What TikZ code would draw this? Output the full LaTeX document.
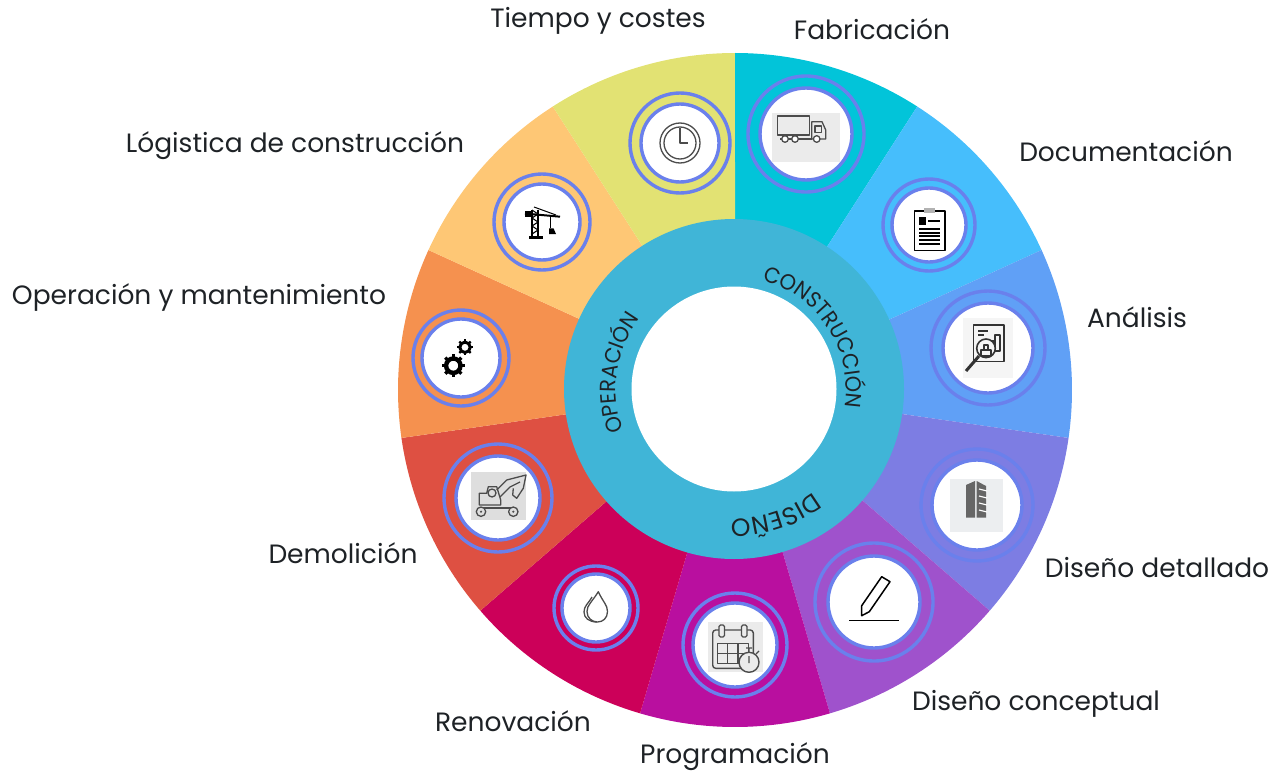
\documentclass[tikz,border=0pt]{standalone}
\usepackage{fontspec}
\usepackage{tikz}
\usetikzlibrary{decorations.text}
\setmainfont{Poppins}
\newfontfamily\hubfont[FakeStretch=0.95]{Poppins}

\definecolor{fabcol}{HTML}{02C4D9}
\definecolor{doccol}{HTML}{46BEFC}
\definecolor{anacol}{HTML}{60A0F6}
\definecolor{detcol}{HTML}{7D7DE3}
\definecolor{concol}{HTML}{9F52CC}
\definecolor{procol}{HTML}{B90F9F}
\definecolor{rencol}{HTML}{CC0059}
\definecolor{demcol}{HTML}{DE5042}
\definecolor{opecol}{HTML}{F5914F}
\definecolor{logcol}{HTML}{FEC775}
\definecolor{ticol}{HTML}{E2E273}
\definecolor{hubcol}{HTML}{40B5D7}
\definecolor{ringcol}{HTML}{6A80EC}
\definecolor{inkcol}{HTML}{1E2226}
\definecolor{linecol}{HTML}{4C4C4C}
\definecolor{tilecol}{HTML}{ECEEF0}

\tikzset{
    ringout/.style={circle, draw=ringcol, line width=3.4pt, inner sep=0pt},
    ringin/.style={circle, draw=ringcol, line width=3.4pt, fill=white, inner sep=0pt},
    lbl/.style={anchor=base, inner sep=0pt, text=inkcol, font=\fontsize{26.5}{30}\selectfont},
    icon/.style={draw=linecol, line width=1.3pt, line join=round},
    blk/.style={draw=black, line width=1.5pt, line join=round}
}

\begin{document}
\begin{tikzpicture}[x=1pt,y=-1pt]
    \useasboundingbox (0,0) rectangle (1279,773);

    % wheel
    \begin{scope}[shift={(735,390)},y=1pt]
        \foreach \col [count=\i] in {fabcol,doccol,anacol,detcol,concol,procol,rencol,demcol,opecol,logcol,ticol} {
            \pgfmathsetmacro{\angA}{90-(\i-1)*32.727}
            \pgfmathsetmacro{\angB}{\angA-32.727}
            \fill[\col] (0,0) -- (\angA:337) arc (\angA:\angB:337) -- cycle;
        }
        \fill[hubcol] (-1,1) circle (170);
        \fill[white] (-1,1) circle (102.5);
        \path[decorate, decoration={text along path, text align=center,
            text={|\hubfont\fontsize{22}{26}\selectfont\color{inkcol}|CONSTRUCCIÓN}}]
            (-1,1) ++(85:112) arc (85:-19:112);
        \path[decorate, decoration={text along path, text align=center,
            text={|\hubfont\fontsize{22}{26}\selectfont\color{inkcol}|OPERACIÓN}}]
            (-1,1) ++(220:118) arc (220:124:118);
        \path[decorate, decoration={text along path, text align=center,
            text={|\fontsize{25}{28}\selectfont\color{inkcol}|DISEÑO}}]
            (-1,1) ++(-25:130) arc (-25:-119:130);
    \end{scope}

    % rings around the icons
    \foreach \name/\px/\py/\ri/\ro in {
        fab/806/134/46/58, doc/929/225/37/46, ana/988/348/45/57,
        det/977/505/45/56, con/874/602/46/59, pro/735/645/42/52,
        ren/596/608/34/42, dem/498/498/42/54, ope/461/358/39/48,
        log/542/222/38/48, tie/680/143/39/50} {
        \node[ringout, minimum size={2*\ro}] (\name out) at (\px,\py) {};
        \node[ringin, minimum size={2*\ri}] (\name in) at (\px,\py) {};
    }

    % truck
    \fill[black!8] (772,113) rectangle (840,162);
    \draw[icon] (777.3,116) rectangle (809.3,135);
    \draw[icon] (811.7,139) -- (811.7,121.7) -- (822,121.7) -- (825.7,130) -- (825.7,139) -- cycle;
    \draw[icon] (815,126) rectangle (821.7,132.7);
    \draw[icon] (780,139) -- (812,139);
    \foreach \wx in {785,795,816.7} {
        \draw[icon, fill=white] (\wx,139) circle (3.3);
    }

    % clipboard
    \draw[blk, line width=1.8pt] (914.5,211) rectangle (945,250.5);
    \fill[gray!60] (923.5,207.5) rectangle (935,213);
    \fill[black] (919.3,216.7) rectangle (925.7,225);
    \draw[black, line width=1.2pt] (928,221) -- (939.5,221);
    \foreach \ly in {229,232.7,236.3,240,243.5} {
        \draw[black, line width=2pt] (919,\ly) -- (940,\ly);
    }

    % report and magnifier
    \fill[black!4] (963,318) rectangle (1013,378);
    \draw[icon, draw=black!80] (973.3,325) rectangle (1004,361.7);
    \draw[icon, draw=black!80] (978,331) -- (988,331) (978,335) -- (984,335);
    \draw[icon, draw=black!80] (995,335) rectangle (1000,351) (989,341) rectangle (995,351);
    \draw[icon, draw=black!80, fill=black!4, line width=1.6pt] (986,348.3) circle (9.3);
    \draw[icon, draw=black!80] (981,356) rectangle (991,350) (984,350) rectangle (988,345);
    \draw[black!80, line width=3pt] (979,356) -- (966,371);

    % building
    \fill[tilecol] (950,479.3) rectangle (1003.3,531.7);
    \fill[black!60] (966,485) -- (975,481) -- (975,517.5) -- (966,517.5) -- cycle;
    \fill[black!60] (976.7,481) -- (986,486) -- (986,517.5) -- (976.7,517.5) -- cycle;
    \foreach \ly in {489,496,503,510} {
        \draw[white, line width=1.2pt] (979,\ly) -- (987,\ly+2);
    }

    % pencil
    \draw[blk] (881.7,576.7) -- (890,581.7) -- (869.3,611.7) -- (861.7,615.7) -- (861.7,605.7) -- cycle;
    \draw[black, line width=1.5pt] (849,620.7) -- (899.3,620.7);

    % calendar and stopwatch
    \fill[black!8] (707.7,621.7) rectangle (763.3,671.7);
    \draw[icon, line width=1.4pt, rounded corners=3pt] (712.7,630) rectangle (753.3,668.3);
    \draw[icon, fill=black!8, rounded corners=1.5pt] (719,625) rectangle (724.5,637);
    \draw[icon, fill=black!8, rounded corners=1.5pt] (741.5,625) rectangle (747,637);
    \draw[icon] (717.3,643.3) rectangle (748.3,663.3);
    \draw[icon] (727.6,643.3) -- (727.6,663.3) (738,643.3) -- (738,663.3) (717.3,653.3) -- (748.3,653.3);
    \draw[icon, fill=black!8, line width=1.4pt] (749,662.3) circle (10);
    \draw[icon] (749,656) -- (749,663) (749,652) -- (749,648) (746,648) -- (752,648) (756,654) -- (759,651);

    % drop
    \draw[icon, draw=black!70] (598.3,591.7) .. controls (592,602) and (587,605) .. (587,611.5)
        .. controls (587,618) and (592,622) .. (597.5,622)
        .. controls (603,622) and (607.5,618) .. (607.5,611.5)
        .. controls (607.5,605) and (603,602) .. (598.3,591.7) -- cycle;
    \draw[icon, draw=black!70] (592,597) .. controls (588,604) and (584,606) .. (584,612)
        .. controls (584,618) and (589,622) .. (597,622);

    % excavator
    \fill[black!13] (470.7,471.7) rectangle (526,520);
    \draw[icon] (479.3,505) -- (479.3,493.3) -- (486.7,493.3) -- (488.3,486.7) -- (496.7,486.7) -- (500.7,500) -- (500.7,505) -- cycle;
    \draw[icon] (496.7,490) -- (506.7,480) -- (526,475) -- (523.3,488.3) -- (516.7,498.3) -- (512.7,495) -- (513.3,488.3);
    \draw[icon] (500,497) -- (510,487) -- (520,482);
    \draw[icon] (492,493) circle (4);
    \draw[icon] (481,508) -- (514,508);
    \foreach \wx in {481,513.3} {
        \draw[icon, fill=black!13] (\wx,511.7) circle (4.7);
        \fill[linecol] (\wx,511.7) circle (1.2);
    }

    % gears
    \foreach \gx/\gy/\gr/\gw in {453.3/365.7/7.2/4.4, 465/347.3/5.2/3} {
        \draw[black, line width=\gw pt] (\gx,\gy) circle (\gr);
        \foreach \t in {0,45,...,315} {
            \draw[black, line width=\gw*0.75 pt] (\gx,\gy) ++(\t:\gr) -- ++(\t:\gw*0.95);
        }
    }

    % crane
    \fill[black] (529.3,236) rectangle (542.7,239.3);
    \draw[black, line width=1.2pt] (532,236) -- (532,210) (538,236) -- (538,210);
    \draw[black, line width=1.1pt] (532,234) -- (538,230) -- (532,226) -- (538,222) -- (532,218) -- (538,214) -- (532,210);
    \draw[black, line width=2pt] (525,213.5) -- (560,216.7);
    \fill[black] (525,211) rectangle (533,216.5);
    \draw[black, line width=1pt] (534,207) -- (556,215);
    \draw[black, line width=0.8pt] (550.7,216.7) -- (550.7,228.3);
    \fill[black] (549,228.3) -- (553.5,228.3) -- (556,234) -- (549,234) -- cycle;

    % clock
    \draw[icon] (680,143) circle (20) (680,143) circle (16);
    \draw[icon] (680,128.5) -- (680,143) -- (687.5,143);

    % labels
    \node[lbl] (tiempo) at (598,28) {Tiempo y costes};
    \node[lbl] (fabrica) at (872,40) {Fabricación};
    \node[lbl] (docu) at (1126,161) {Documentación};
    \node[lbl] (analisis) at (1137,327) {Análisis};
    \node[lbl] (detalle) at (1157,577) {Diseño detallado};
    \node[lbl] (concepto) at (1036,710) {Diseño conceptual};
    \node[lbl] (progra) at (735,763) {Programación};
    \node[lbl] (renova) at (513,731) {Renovación};
    \node[lbl] (demol) at (343,563) {Demolición};
    \node[lbl] (opera) at (199,304) {Operación y mantenimiento};
    \node[lbl] (logis) at (295,153) {Lógistica de construcción};
\end{tikzpicture}
\end{document}
